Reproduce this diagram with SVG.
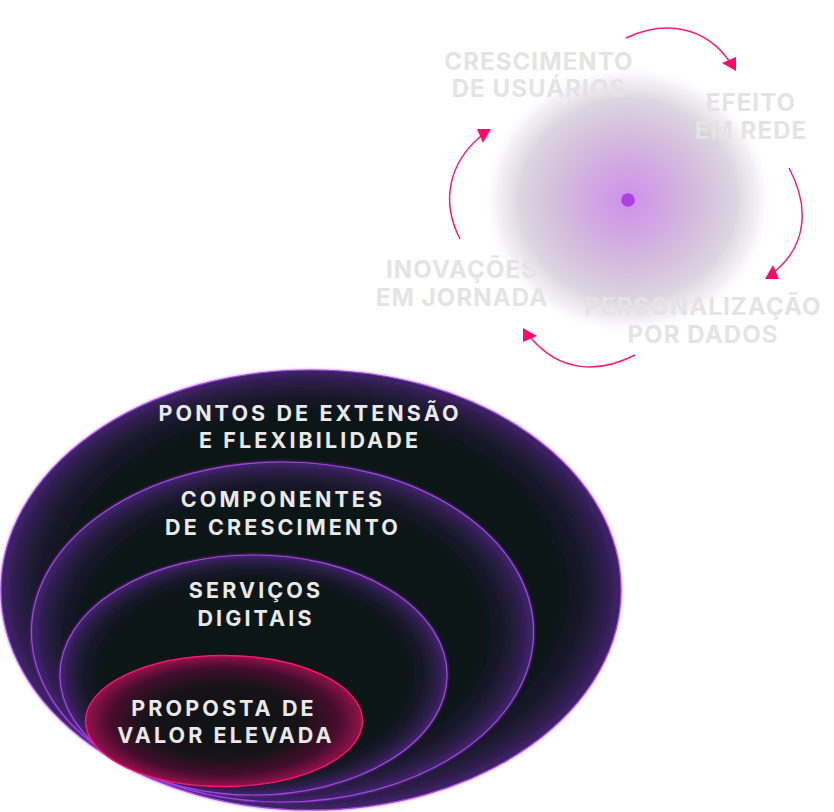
<svg xmlns="http://www.w3.org/2000/svg" width="834" height="812" viewBox="0 0 834 812">
<style>
.lbl{font-family:Inter,"Liberation Sans",sans-serif;font-weight:700;font-size:21.5px;letter-spacing:3.1px;fill:#e9e9e9;text-anchor:middle}
.cyc{font-family:Inter,"Liberation Sans",sans-serif;font-weight:700;font-size:24px;letter-spacing:1.1px;fill:#e4e4e4;text-anchor:middle}
.ring{fill:url(#ringFill);stroke:#a445e6;stroke-width:1.2}
.core{fill:url(#coreFill);stroke:#ff1472;stroke-width:1.4}
.arc{fill:none;stroke:#ff1a78;stroke-width:1.5}
.head{fill:#ff0a6c}
</style>
<defs>
<radialGradient id="ringFill" cx="0.5" cy="0.5" r="0.5">
<stop offset="0" stop-color="#0c1618"/>
<stop offset="0.8" stop-color="#0c1618"/>
<stop offset="0.91" stop-color="#1f1a33"/>
<stop offset="1" stop-color="#40226a"/>
</radialGradient>
<radialGradient id="coreFill" cx="0.5" cy="0.5" r="0.5">
<stop offset="0" stop-color="#0e1416"/>
<stop offset="0.55" stop-color="#161318"/>
<stop offset="0.82" stop-color="#450d2c"/>
<stop offset="1" stop-color="#93114c"/>
</radialGradient>
<radialGradient id="halo" cx="0.5" cy="0.5" r="0.5">
<stop offset="0" stop-color="#cf92ea"/>
<stop offset="0.25" stop-color="#d2a6e3"/>
<stop offset="0.55" stop-color="#d6c3dd"/>
<stop offset="0.75" stop-color="#ddd6e1"/>
<stop offset="0.9" stop-color="#eeebf0" stop-opacity="0.7"/>
<stop offset="1" stop-color="#ffffff" stop-opacity="0"/>
</radialGradient>
<filter id="glow" x="-10%" y="-10%" width="120%" height="120%">
<feGaussianBlur in="SourceAlpha" stdDeviation="2"/>
<feFlood flood-color="#9a3be0" flood-opacity="0.7"/>
<feComposite operator="in" in2="SourceAlpha"/>
<feGaussianBlur stdDeviation="1.5"/>
<feMerge><feMergeNode/><feMergeNode in="SourceGraphic"/></feMerge>
</filter>
<polygon id="ah" class="head" points="0,0 -14,-8 0,-14"/>
</defs>

<g id="cycle-center">
<ellipse cx="628" cy="200" rx="145" ry="135" fill="url(#halo)"/>
<circle cx="628" cy="200" r="6.8" fill="#b13fe4"/>
</g>

<g id="connectors">
<path class="arc" d="M626,38 C665,20 705,26 730,62"/>
<path class="arc" d="M789,168 C809,205 808,245 774,272"/>
<path class="arc" d="M635,355 C598,374 560,372 531,338"/>
<path class="arc" d="M460,239 C440,200 450,162 481,136"/>
<use href="#ah" transform="translate(736,71)"/>
<use href="#ah" transform="translate(765,279) rotate(90)"/>
<use href="#ah" transform="translate(523,328) rotate(180)"/>
<use href="#ah" transform="translate(491,129) rotate(270)"/>
</g>

<g id="node-crescimento">
<text class="cyc" x="539" y="70">CRESCIMENTO</text>
<text class="cyc" x="539" y="97">DE USUÁRIOS</text>
</g>
<g id="node-efeito">
<text class="cyc" x="751" y="111">EFEITO</text>
<text class="cyc" x="751" y="139">EM REDE</text>
</g>
<g id="node-personalizacao">
<text class="cyc" x="703" y="315">PERSONALIZAÇÃO</text>
<text class="cyc" x="703" y="343">POR DADOS</text>
</g>
<g id="node-inovacoes">
<text class="cyc" x="462" y="278">INOVAÇÕES</text>
<text class="cyc" x="462" y="306">EM JORNADA</text>
</g>

<g id="node-pontos">
<ellipse class="ring" cx="311" cy="590" rx="310" ry="220" filter="url(#glow)"/>
<text class="lbl" x="310" y="421">PONTOS DE EXTENSÃO</text>
<text class="lbl" x="310" y="448">E FLEXIBILIDADE</text>
</g>
<g id="node-componentes">
<ellipse class="ring" cx="282.5" cy="632" rx="251" ry="170" filter="url(#glow)"/>
<text class="lbl" x="283" y="507">COMPONENTES</text>
<text class="lbl" x="283" y="535">DE CRESCIMENTO</text>
</g>
<g id="node-servicos">
<ellipse class="ring" cx="253.5" cy="675" rx="193.5" ry="120" filter="url(#glow)"/>
<text class="lbl" x="256" y="598">SERVIÇOS</text>
<text class="lbl" x="256" y="626">DIGITAIS</text>
</g>
<g id="node-proposta">
<ellipse class="core" cx="224" cy="721" rx="138.5" ry="65.5"/>
<text class="lbl" x="224" y="716">PROPOSTA DE</text>
<text class="lbl" x="226" y="743">VALOR ELEVADA</text>
</g>
</svg>
